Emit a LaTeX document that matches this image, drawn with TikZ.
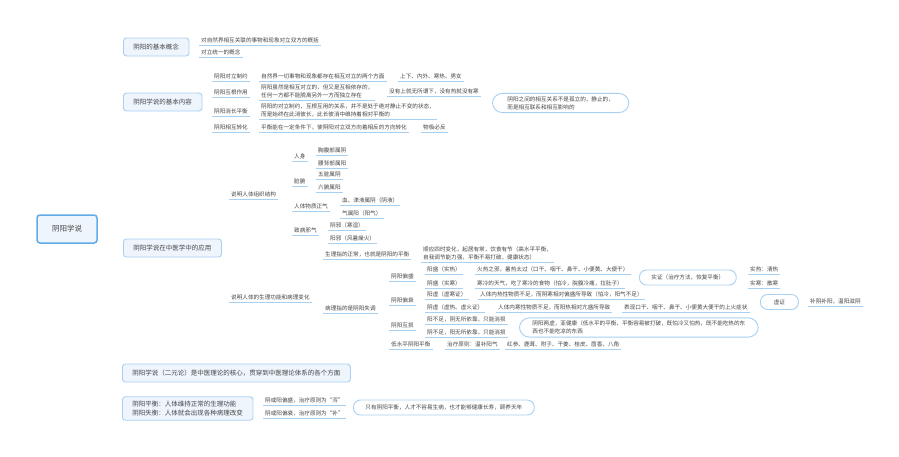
\documentclass[tikz,border=0pt]{standalone}
\usepackage{fontspec}
\setmainfont{Noto Sans CJK SC}
\usetikzlibrary{calc,backgrounds,decorations.pathreplacing}
\definecolor{lb}{HTML}{A8D0F2}
\definecolor{bfill}{HTML}{EEF5FD}
\definecolor{rootc}{HTML}{62AAE8}
\definecolor{txt}{HTML}{454545}
\newcommand{\mmleaf}{\fontsize{5.6}{8}\selectfont}
\newcommand{\mmtopic}{\fontsize{6.5}{9.5}\selectfont}
\newcommand{\mmroot}{\fontsize{7.5}{9}\selectfont}
\tikzset{
  conn/.style={draw=lb, line width=0.9pt},
  mm/.style={to path={let \p1=(\tikztostart), \p2=(\tikztotarget) in
      .. controls ({(\x1+\x2)/2},\y1) and ({(\x1+\x2)/2},\y2) .. (\tikztotarget)}},
  leafbase/.style={font=\mmleaf, text=txt, inner xsep=2pt, inner ysep=1.8pt,
      anchor=south west,
      append after command={(\tikzlastnode.south west) edge[conn] (\tikzlastnode.south east)}},
  leaf/.style={leafbase, text height=4.6pt, text depth=0.9pt},
  leaftwo/.style={leafbase, align=left},
  topic/.style={draw=lb, fill=bfill, line width=0.9pt, rounded corners=3pt,
      font=\mmtopic, text=txt, inner xsep=10pt, inner ysep=4pt, minimum height=18pt, anchor=west},
  sumbox/.style={draw=lb, fill=white, line width=0.9pt, rounded corners=7pt,
      font=\mmleaf, text=txt, inner xsep=12pt, inner ysep=3pt, minimum height=15pt, anchor=west},
  rootbox/.style={draw=rootc, fill=bfill, line width=1.5pt, rounded corners=3pt,
      font=\mmroot, text=txt, minimum width=60pt, minimum height=28pt},
  brc/.style={draw=lb, line width=0.9pt, decorate, decoration={brace, amplitude=3.5pt}},
}
\begin{document}
\begin{tikzpicture}[x=1pt,y=-1pt]
\fill[white] (0,0) rectangle (899,456);
\useasboundingbox (0,0) rectangle (899,456);

% root and main topics
\node[rootbox] (root) at (67,229) {阴阳学说};
\node[topic] (B1) at (123,47) {阴阳的基本概念};
\node[topic] (B2) at (123,102) {阴阳学说的基本内容};
\node[topic] (B3) at (123,248) {阴阳学说在中医学中的应用};
\node[topic] (B4) at (122,373) {阴阳学说（二元论）是中医理论的核心，贯穿到中医理论体系的各个方面};
\node[topic, align=left] (B5) at (122,408.5) {阴阳平衡：人体维持正常的生理功能\\阴阳失衡：人体就会出现各种病理改变};

% B1
\node[leaf] (c11) at (199,45) {对自然界相互关联的事物和现象对立双方的概括};
\node[leaf] (c12) at (199,57) {对立统一的概念};

% B2
\node[leaf] (c21) at (212,81) {阴阳对立制约};
\node[leaf] (c21a) at (259,81) {自然界一切事物和现象都存在相互对立的两个方面};
\node[leaf] (c21b) at (398,81) {上下、内外、寒热、男女};
\node[leaf] (c22) at (212,97) {阴阳互根作用};
\node[leaftwo] (c22a) at (259,100) {阴阳虽然是相互对立的，但又是互相依存的，\\任何一方都不能脱离另外一方而独立存在};
\node[leaf] (c22b) at (387,96) {没有上就无所谓下，没有热就没有寒};
\node[leaf] (c23) at (212,116) {阴阳消长平衡};
\node[leaftwo] (c23a) at (259,119) {阴阳的对立制约，互根互用的关系，并不是处于绝对静止不变的状态，\\而是始终在此消彼长，此长彼消中维持着相对平衡的};
\node[leaf] (c24) at (212,132) {阴阳相互转化};
\node[leaf] (c24a) at (259,132) {平衡能在一定条件下，使阴阳对立双方向着相反的方向转化};
\node[leaf] (c24b) at (421,132) {物极必反};
\coordinate (br2a) at (486,72);
\coordinate (br2b) at (486,134);
\coordinate (br2t) at (489.5,103);
\node[sumbox, align=left, inner xsep=15pt, rounded corners=10pt] (bx2) at (492,103) {阴阳之间的相互关系不是孤立的，静止的，\\而是相互联系和相互影响的};

% B3
\node[leaf] (c31) at (229,199) {说明人体组织结构};
\node[leaf] (c311) at (292,161) {人身};
\node[leaf] (c3111) at (316,155) {胸腹部属阴};
\node[leaf] (c3112) at (316,168) {腰背部属阳};
\node[leaf] (c312) at (292,186) {脏腑};
\node[leaf] (c3121) at (316,179) {五脏属阴};
\node[leaf] (c3122) at (316,192) {六腑属阳};
\node[leaf] (c313) at (292,211) {人体物质正气};
\node[leaf] (c3131) at (340,205) {血、津液属阴（阴液）};
\node[leaf] (c3132) at (340,218) {气属阳（阳气）};
\node[leaf] (c314) at (292,235) {致病邪气};
\node[leaf] (c3141) at (328,230) {阴邪（寒湿）};
\node[leaf] (c3142) at (328,243) {阳邪（风暑燥火）};

\node[leaf] (c32) at (229,302) {说明人体的生理功能和病理变化};
\node[leaf] (c321) at (323,259) {生理指的正常，也就是阴阳的平衡};
\node[leaftwo] (c321a) at (421,262) {顺应四时变化，起居有常，饮食有节（高水平平衡，\\自我调节能力强，平衡不易打破，健康状态）};
\node[leaf] (c322) at (323,313) {病理指的是阴阳失调};

\node[leaf] (d1) at (389,281) {阴阳偏盛};
\node[leaf] (d11) at (425,274) {阳盛（实热）};
\node[leaf] (d11a) at (475,274) {火热之邪，暑热太过（口干、咽干、鼻干、小便黄、大便干）};
\node[leaf] (d12) at (425,288) {阴盛（实寒）};
\node[leaf] (d12a) at (475,288) {寒冷的天气，吃了寒冷的食物（怕冷，脘腹冷痛，拉肚子）};
\coordinate (br3a) at (629,265);
\coordinate (br3b) at (629,291);
\coordinate (br3t) at (632.5,278);
\node[sumbox] (shz) at (639,277.5) {实证（治疗方法，恢复平衡）};
\node[leaf] (e1) at (748,274) {实热：清热};
\node[leaf] (e2) at (748,288) {实寒：散寒};

\node[leaf] (d2) at (389,305) {阴阳偏衰};
\node[leaf] (d21) at (425,299) {阳虚（虚寒证）};
\node[leaf] (d21a) at (478,299) {人体内热性物质不足，而阴寒相对偏盛所导致（怕冷，阳气不足）};
\node[leaf] (d22) at (425,312) {阴虚（虚热、虚火证）};
\node[leaf] (d22a) at (496,312) {人体内寒性物质不足，而阳热相对亢盛所导致};
\node[leaf] (d22b) at (622,312) {表现口干、咽干、鼻干、小便黄大便干的上火症状};
\coordinate (br4a) at (753,291);
\coordinate (br4b) at (753,314);
\coordinate (br4t) at (756.5,302.5);
\node[sumbox, minimum width=38pt, inner xsep=4pt] (xz) at (760,302) {虚证};
\node[leaf] (e3) at (808,306) {补阴补阳，温阳滋阴};

\node[leaf] (d3) at (389,330) {阴阳互损};
\node[leaf] (d31) at (425,324) {阳不足，阴无所依靠，只能消损};
\node[leaf] (d32) at (425,337) {阴不足，阳无所依靠，只能消损};
\coordinate (br5a) at (513,316);
\coordinate (br5b) at (513,339);
\coordinate (br5t) at (516.5,327.5);
\node[sumbox, align=left, inner xsep=13pt, rounded corners=10pt] (hs) at (519,327.5) {阴阳两虚，亚健康（低水平的平衡，平衡容易被打破，既怕冷又怕热，既不能吃热的东\\西也不能吃凉的东西};

\node[leaf] (d4) at (389,349) {低水平阴阳平衡};
\node[leaf] (d4a) at (445,349) {治疗原则：温补阳气};
\node[leaf] (d4b) at (505,349) {红参、鹿茸、附子、干姜、桂皮、茴香、八角};

% B5
\node[leaf] (f1) at (263,405) {阴或阳偏盛，治疗原则为“泻”};
\node[leaf] (f2) at (263,418) {阴或阳偏衰，治疗原则为“补”};
\coordinate (br6a) at (347,396);
\coordinate (br6b) at (347,421);
\coordinate (br6t) at (350.5,408.5);
\node[sumbox] (f3) at (353,407.5) {只有阴阳平衡，人才不容易生病，也才能够健康长寿，颐养天年};

\begin{pgfonlayer}{background}
\draw[conn] ([xshift=15pt]root.north) .. controls +(0,-115) and +(-28,0) .. (B1.west);
\draw[conn] ([xshift=15pt]root.north) .. controls +(0,-65) and +(-28,0) .. (B2.west);
\draw[conn] ([yshift=-8pt]root.east) to[mm] (B3.west);
\draw[conn] ([xshift=15pt]root.south) .. controls +(0,85) and +(-28,0) .. (B4.west);
\draw[conn] ([xshift=15pt]root.south) .. controls +(0,105) and +(-28,0) .. (B5.west);

\foreach \q in {c11,c12} \draw[conn] (B1.east) to[mm] (\q.south west);
\foreach \q in {c21,c22,c23,c24} \draw[conn] (B2.east) to[mm] (\q.south west);
\draw[conn] (c21.south east) to[mm] (c21a.south west);
\draw[conn] (c21a.south east) to[mm] (c21b.south west);
\draw[conn] (c22.south east) to[mm] (c22a.south west);
\draw[conn] (c22a.south east) to[mm] (c22b.south west);
\draw[conn] (c23.south east) to[mm] (c23a.south west);
\draw[conn] (c24.south east) to[mm] (c24a.south west);
\draw[conn] (c24a.south east) to[mm] (c24b.south west);
\draw[brc] (br2a) -- (br2b);
\draw[conn] (br2t) -- (bx2.west);

\foreach \q in {c31,c32} \draw[conn] (B3.east) to[mm] (\q.south west);
\foreach \q in {c311,c312,c313,c314} \draw[conn] (c31.south east) to[mm] (\q.south west);
\foreach \q in {c3111,c3112} \draw[conn] (c311.south east) to[mm] (\q.south west);
\foreach \q in {c3121,c3122} \draw[conn] (c312.south east) to[mm] (\q.south west);
\foreach \q in {c3131,c3132} \draw[conn] (c313.south east) to[mm] (\q.south west);
\foreach \q in {c3141,c3142} \draw[conn] (c314.south east) to[mm] (\q.south west);

\foreach \q in {c321,c322} \draw[conn] (c32.south east) to[mm] (\q.south west);
\draw[conn] (c321.south east) to[mm] (c321a.south west);
\foreach \q in {d1,d2,d3,d4} \draw[conn] (c322.south east) to[mm] (\q.south west);
\foreach \q in {d11,d12} \draw[conn] (d1.south east) to[mm] (\q.south west);
\draw[conn] (d11.south east) to[mm] (d11a.south west);
\draw[conn] (d12.south east) to[mm] (d12a.south west);
\draw[brc] (br3a) -- (br3b);
\draw[conn] (br3t) -- (shz.west);
\foreach \q in {e1,e2} \draw[conn] (shz.east) to[mm] (\q.south west);
\foreach \q in {d21,d22} \draw[conn] (d2.south east) to[mm] (\q.south west);
\draw[conn] (d21.south east) to[mm] (d21a.south west);
\draw[conn] (d22.south east) to[mm] (d22a.south west);
\draw[conn] (d22a.south east) to[mm] (d22b.south west);
\draw[brc] (br4a) -- (br4b);
\draw[conn] (br4t) -- (xz.west);
\draw[conn] (xz.east) to[mm] (e3.south west);
\foreach \q in {d31,d32} \draw[conn] (d3.south east) to[mm] (\q.south west);
\draw[brc] (br5a) -- (br5b);
\draw[conn] (br5t) -- (hs.west);
\draw[conn] (d4.south east) to[mm] (d4a.south west);
\draw[conn] (d4a.south east) to[mm] (d4b.south west);

\foreach \q in {f1,f2} \draw[conn] (B5.east) to[mm] (\q.south west);
\draw[brc] (br6a) -- (br6b);
\draw[conn] (br6t) -- (f3.west);
\end{pgfonlayer}
\end{tikzpicture}
\end{document}
